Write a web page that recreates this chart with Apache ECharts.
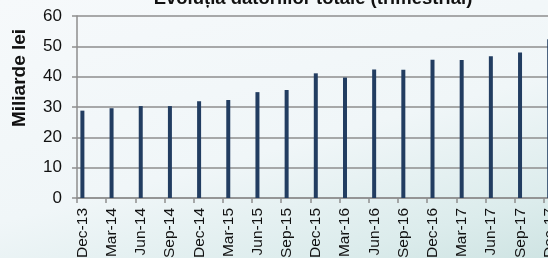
<!DOCTYPE html>
<html>
<head>
<meta charset="utf-8">
<script src="https://cdn.jsdelivr.net/npm/echarts@6/dist/echarts.min.js"></script>
<style>
  html, body { margin: 0; padding: 0; overflow: hidden; }
  body {
    width: 548px; height: 258px;
    background: linear-gradient(165deg, #f6f9fb 0%, #f0f6f8 55%, #dcecec 85%, #cfe4e3 100%);
  }
  /* chart is wider than the window: the last column is cut off like in the source */
  #chart { width: 600px; height: 258px; }
</style>
</head>
<body>
<div id="chart"></div>
<script>
  // quarterly categories
  const quarters = ['Dec-13', 'Mar-14', 'Jun-14', 'Sep-14', 'Dec-14', 'Mar-15', 'Jun-15', 'Sep-15',
    'Dec-15', 'Mar-16', 'Jun-16', 'Sep-16', 'Dec-16', 'Mar-17', 'Jun-17', 'Sep-17', 'Dec-17'];
  // total debt, billion lei
  const debtTotal = [28.8, 29.6, 30.3, 30.3, 31.9, 32.3, 34.9, 35.6,
    41.1, 39.7, 42.4, 42.3, 45.6, 45.5, 46.7, 48.0, 52.3];
  const yTicks = { min: 0, max: 60, interval: 10 };

  const chart = echarts.init(document.getElementById('chart'), null, { renderer: 'canvas' });

  const gridColor = '#8e8e8e';

  chart.setOption({
    backgroundColor: 'transparent',
    animation: false,
    title: {
      text: 'Evoluția datoriilor totale (trimestrial)',
      left: 313,
      top: -11,
      padding: 0,
      textAlign: 'center',
      textStyle: {
        fontFamily: 'Liberation Sans',
        fontSize: 18.5,
        fontWeight: 'bold',
        color: '#111'
      }
    },
    graphic: [
      {
        type: 'text',
        x: 20,
        y: 78,
        rotation: Math.PI / 2,
        style: {
          text: 'Miliarde lei',
          fontFamily: 'Liberation Sans',
          fontSize: 19,
          fontWeight: 'bold',
          fill: '#111',
          textAlign: 'center',
          textVerticalAlign: 'middle'
        }
      }
    ],
    grid: {
      left: 77,
      top: 16,
      width: 496,
      height: 182,
      containLabel: false,
      outerBoundsMode: 'none'
    },
    xAxis: {
      type: 'category',
      data: quarters,
      boundaryGap: true,
      axisLine: { lineStyle: { color: gridColor, width: 1.5 } },
      axisTick: { show: true, interval: 0, length: 5, lineStyle: { color: gridColor, width: 1.5 } },
      axisLabel: {
        interval: 0,
        rotate: 90,
        margin: 10,
        // an empty second line pushes the rotated label left, under its bar
        formatter: (v) => v + '\n ',
        lineHeight: 18,
        fontFamily: 'Liberation Sans',
        fontSize: 15.5,
        color: '#111'
      }
    },
    yAxis: {
      type: 'value',
      min: yTicks.min,
      max: yTicks.max,
      interval: yTicks.interval,
      axisLine: { show: true, lineStyle: { color: gridColor, width: 1.5 } },
      axisTick: { show: true, length: 5, lineStyle: { color: gridColor, width: 1.5 } },
      axisLabel: {
        margin: 15,
        fontFamily: 'Liberation Sans',
        fontSize: 17,
        color: '#111'
      },
      splitLine: { lineStyle: { color: gridColor, width: 1.5 } }
    },
    series: [
      {
        name: 'Datorii totale',
        type: 'bar',
        data: debtTotal,
        barWidth: 4,
        barGap: '360%',
        itemStyle: { color: '#223d61' }
      },
      {
        // empty companion series, keeps the bar at the left of its slot
        name: 'gol',
        type: 'bar',
        data: [],
        barWidth: 4,
        barGap: '360%'
      }
    ]
  });
</script>
</body>
</html>
